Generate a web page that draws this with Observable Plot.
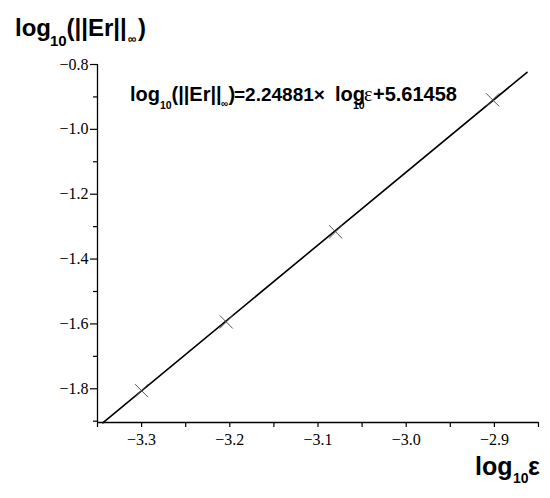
<!DOCTYPE html>
<html>
<head>
<meta charset="utf-8">
<script src="https://cdn.jsdelivr.net/npm/d3@7"></script>
<script src="https://cdn.jsdelivr.net/npm/@observablehq/plot@0.6"></script>
<style>
  html, body { margin: 0; padding: 0; background: #fff; }
  #chart svg { display: block; }
</style>
</head>
<body>
<div id="chart"></div>
<script>
// Measured points (log10 eps, log10 ||Er||inf)
const pointX = [-3.3, -3.204, -3.08, -2.902];
const pointY = [-1.806, -1.594, -1.316, -0.909];
// Fitted line endpoints as drawn
const lineX = [-3.344, -2.863];
const lineY = [-1.905, -0.824];
// Axis ticks
const xMajorTicks = [-3.3, -3.2, -3.1, -3.0, -2.9];
const xMinorTicks = [-3.35, -3.25, -3.15, -3.05, -2.95, -2.85];
const yMajorTicks = [-0.8, -1.0, -1.2, -1.4, -1.6, -1.8];
const yMinorTicks = [-0.9, -1.1, -1.3, -1.5, -1.7, -1.9];
const xDomain = [-3.35, -2.85];
const yDomain = [-1.904, -0.8];

const points = pointX.map((x, i) => ({x, y: pointY[i]}));
const line = lineX.map((x, i) => ({x, y: lineY[i]}));
const fmt = d => d3.format(".1f")(d).replace("-", "\u2212");
const serif = "'Liberation Serif', 'Times New Roman', serif";

const plot = Plot.plot({
  width: 550,
  height: 498,
  marginLeft: 97,
  marginRight: 12,
  marginTop: 64,
  marginBottom: 76,
  style: {background: "#fff", color: "#000"},
  x: {domain: xDomain, label: null},
  y: {domain: yDomain, label: null},
  marks: [
    Plot.ruleX([xDomain[0]], {stroke: "#000", strokeWidth: 1.3}),
    Plot.ruleY([yDomain[0]], {stroke: "#000", strokeWidth: 1.3}),
    Plot.axisX({ticks: xMinorTicks, tickSize: 5, text: null, label: null, stroke: "#000", strokeWidth: 1.2}),
    Plot.axisX({ticks: xMajorTicks, tickSize: 5, tickPadding: 6, tickFormat: fmt, label: null, stroke: "#000", strokeWidth: 1.2, fill: "#000", fontSize: 16, fontFamily: serif}),
    Plot.axisY({ticks: yMinorTicks, tickSize: 4, text: null, label: null, stroke: "#000", strokeWidth: 1.2}),
    Plot.axisY({ticks: yMajorTicks, tickSize: 7, tickPadding: 2, tickFormat: fmt, label: null, stroke: "#000", strokeWidth: 1.2, fill: "#000", fontSize: 16, fontFamily: serif}),
    Plot.line(line, {x: "x", y: "y", stroke: "#000", strokeWidth: 1.6}),
    Plot.dot(points, {x: "x", y: "y", symbol: "times", r: 6, stroke: "#555", strokeWidth: 1})
  ]
});
document.getElementById("chart").appendChild(plot);

const svg = d3.select(plot);
// force serif tick labels
svg.selectAll("text")
  .filter(function() { return /^\u2212?\d\.\d$/.test(this.textContent); })
  .style("font-family", serif).style("font-size", "16px").attr("fill", "#000");

const sans = "'Liberation Sans', Arial, sans-serif";
function rich(x0, y0, size, parts) {
  const t = svg.append("text").attr("x", x0).attr("y", y0).attr("text-anchor", "start")
    .style("font-family", sans).style("font-weight", "bold").style("font-size", size + "px").attr("fill", "#000");
  for (const p of parts) {
    const s = t.append("tspan").attr("x", p.x).attr("y", y0 + (p.dy || 0)).text(p.t);
    if (p.size) s.style("font-size", p.size + "px");
    if (p.serif) s.style("font-family", serif).style("font-weight", "normal");
  }
}

// Y axis title
rich(15, 36, 24, [
  {x: 15, t: "log"},
  {x: 50, t: "10", size: 15, dy: 10},
  {x: 66.5, t: "(||Er||"},
  {x: 128, t: "\u221e", size: 12, dy: 7},
  {x: 138, t: ")"}
]);

// X axis title
rich(475, 475, 25, [
  {x: 475, t: "log"},
  {x: 513, t: "10", size: 14, dy: 8},
  {x: 528, t: "\u03b5"}
]);

// Equation
rich(130, 101, 20, [
  {x: 130, t: "log"},
  {x: 160, t: "10", size: 10.5, dy: 8},
  {x: 171.5, t: "(||Er||"},
  {x: 221, t: "\u221e", size: 10, dy: 6},
  {x: 228.5, t: ")"},
  {x: 234, t: "=2.24881\u00d7", size: 19},
  {x: 335, t: "log"},
  {x: 353, t: "10", size: 10.5, dy: 8},
  {x: 364, t: "\u03b5", serif: true},
  {x: 373, t: "+5.61458"}
]);
</script>
</body>
</html>
